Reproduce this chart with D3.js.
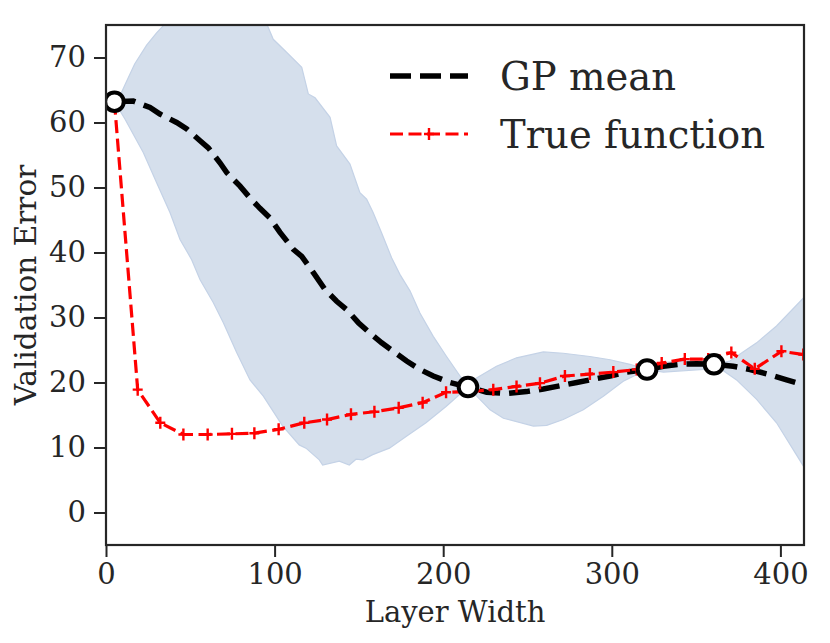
<!DOCTYPE html>
<html>
<head>
<meta charset="utf-8">
<script src="https://cdn.jsdelivr.net/npm/d3@7"></script>
<style>
  body { margin: 0; background: #fff; }
  text { font-family: "DejaVu Serif", serif; fill: #262626; }
</style>
</head>
<body>
<div id="chart"></div>
<script>
// GP posterior mean
const meanX = [5, 16.2, 26.1, 32, 41.9, 47.9, 55.8, 60.7, 67.6, 71.6, 79.5, 85.4, 91.3, 97.3, 103.2, 111.1, 116.1, 123, 129.9, 136.8, 142.8, 149.7, 156.6, 163.5, 170.4, 178.3, 186.2, 194.1, 204, 214.7, 225.8, 237.7, 249.5, 259.4, 269.3, 279.2, 289, 299, 308.8, 320.9, 330.6, 340.5, 350.4, 360.6, 372, 382, 393.8, 403.7, 414];
const meanY = [63.2, 63.3, 62.3, 61.3, 60.0, 59.0, 57.2, 56.1, 53.8, 52.3, 50.2, 48.4, 46.8, 45.3, 43.1, 40.5, 39.4, 36.9, 34.3, 32.5, 31.2, 29.2, 27.6, 26.1, 24.8, 23.3, 22.0, 21.0, 20.0, 19.3, 18.5, 18.3, 18.6, 19.0, 19.5, 20.0, 20.5, 21.0, 21.6, 22.0, 22.5, 22.8, 22.9, 22.8, 22.5, 22.0, 21.2, 20.4, 19.6];

// confidence band edges
const upperX = [5, 8.3, 11.4, 17, 24.1, 30, 34, 40, 50, 70, 88, 95.3, 99.2, 107.1, 116.1, 120, 124, 132.9, 136.8, 144.7, 150.6, 154.6, 158.5, 163.5, 169.4, 174.4, 180.3, 186.2, 194.1, 202, 210, 214.7, 219.8, 231.6, 243.5, 259.4, 271.2, 287, 299, 310.8, 320.9, 330.6, 354.3, 360.6, 370, 385.9, 397.7, 414];
const upperY = [63.2, 64.1, 65.9, 69.0, 71.9, 73.8, 74.9, 77, 82, 85, 79, 75.2, 72.8, 70.8, 68.5, 64.4, 63.8, 60.8, 56.4, 53.6, 49.2, 48.2, 46.1, 43.0, 39.2, 36.6, 34.1, 30.7, 27.1, 24.0, 21.0, 19.3, 20.7, 22.5, 23.8, 24.7, 24.5, 24.0, 23.5, 22.8, 22.0, 23.1, 23.4, 22.8, 23.3, 26.1, 28.7, 33.1];
const lowerX = [5, 11.3, 22.1, 30.1, 38, 43.9, 50.8, 55.8, 63.6, 69.6, 77.5, 85.4, 93.3, 104.8, 114.6, 118.6, 126.5, 128.5, 138.4, 144.3, 148.3, 152.3, 158.2, 168.1, 178, 189.8, 201.7, 214.7, 227.8, 235.7, 253.5, 261.4, 271.2, 283.1, 295, 306.8, 320.9, 330.6, 354.3, 360.6, 374, 385.9, 397.7, 414];
const lowerY = [63.2, 60.5, 55.4, 50.7, 46.1, 42.0, 38.9, 35.8, 32.3, 29.2, 24.6, 20.4, 17.9, 13.3, 10.4, 9.9, 8.1, 7.3, 7.9, 7.3, 8.2, 8.1, 8.9, 9.9, 11.7, 13.8, 16.3, 19.3, 15.8, 14.5, 13.3, 13.4, 14.3, 15.8, 17.9, 20.2, 22.0, 21.6, 22.0, 22.8, 20.4, 17.4, 13.8, 7.0];

// true function samples
const trueX = [5, 18.8, 32.2, 45.9, 60.3, 74.7, 88, 102.4, 117.6, 131.1, 145.3, 159.2, 173.6, 187.8, 201.7, 215.5, 229.7, 243.5, 257.4, 272.2, 287, 300.9, 314.8, 329.6, 343.3, 357.2, 370.9, 384.8, 400.6, 413.6];
const trueY = [63.2, 18.9, 13.8, 12.0, 12.0, 12.1, 12.2, 12.8, 13.8, 14.3, 15.1, 15.5, 16.1, 16.9, 18.5, 18.6, 18.9, 19.4, 19.9, 21.0, 21.3, 21.6, 22.0, 23.0, 23.6, 23.6, 24.6, 22.1, 24.8, 24.3];

// observed evaluations
const obsX = [5, 214.7, 320.9, 360.6];
const obsY = [63.2, 19.3, 22.0, 22.8];

const xTicks = [0, 100, 200, 300, 400];
const yTicks = [0, 10, 20, 30, 40, 50, 60, 70];
const legendLabels = ["GP mean", "True function"];

const width = 830, height = 643;
const margin = {top: 25, right: 26, bottom: 98, left: 106};

const svg = d3.select("#chart").append("svg")
  .attr("width", width)
  .attr("height", height);

const x = d3.scaleLinear().domain([0, 414]).range([margin.left, width - margin.right]);
const y = d3.scaleLinear().domain([-5, 75]).range([height - margin.bottom, margin.top]);

svg.append("clipPath").attr("id", "plot-clip")
  .append("rect")
  .attr("x", x.range()[0]).attr("y", y.range()[1])
  .attr("width", x.range()[1] - x.range()[0])
  .attr("height", y.range()[0] - y.range()[1]);

const plot = svg.append("g").attr("clip-path", "url(#plot-clip)");

// band polygon: upper edge forward, lower edge back
const bandPts = upperX.map((d, i) => [x(d), y(upperY[i])])
  .concat(lowerX.map((d, i) => [x(d), y(lowerY[i])]).reverse());

plot.append("path")
  .attr("d", d3.line()(bandPts) + "Z")
  .attr("fill", "#d5dfec")
  .attr("stroke", "#c4d2e6")
  .attr("stroke-width", 1.2);

const line = d3.line().x(d => x(d[0])).y(d => y(d[1]));

plot.append("path")
  .attr("d", line(meanX.map((d, i) => [d, meanY[i]])))
  .attr("fill", "none")
  .attr("stroke", "#000")
  .attr("stroke-width", 5.5)
  .attr("stroke-dasharray", "21,9");

const truePts = trueX.map((d, i) => [d, trueY[i]]);
plot.append("path")
  .attr("d", line(truePts))
  .attr("fill", "none")
  .attr("stroke", "#ff0000")
  .attr("stroke-width", 3.2)
  .attr("stroke-dasharray", "13,5.5");

const plus = (g, cx, cy) => {
  g.append("path")
    .attr("d", `M${cx},${cy - 6}V${cy + 6}M${cx - 5},${cy}H${cx + 5}`)
    .attr("stroke", "#ff0000")
    .attr("stroke-width", 2.4)
    .attr("fill", "none");
};
truePts.slice(1).forEach(d => plus(plot, x(d[0]), y(d[1])));

plot.selectAll("circle.obs")
  .data(obsX.map((d, i) => [d, obsY[i]]))
  .join("circle")
  .attr("class", "obs")
  .attr("cx", d => x(d[0]))
  .attr("cy", d => y(d[1]))
  .attr("r", 9.3)
  .attr("fill", "#fff")
  .attr("stroke", "#000")
  .attr("stroke-width", 4);

// axes
const xAxis = svg.append("g")
  .attr("transform", `translate(0,${y.range()[0]})`)
  .call(d3.axisBottom(x).tickValues(xTicks).tickSize(12).tickPadding(6).tickFormat(d3.format("d")));
const yAxis = svg.append("g")
  .attr("transform", `translate(${x.range()[0]},0)`)
  .call(d3.axisLeft(y).tickValues(yTicks).tickSize(12).tickPadding(8).tickFormat(d3.format("d")));

[xAxis, yAxis].forEach(a => {
  a.select(".domain").remove();
  a.selectAll(".tick line").attr("stroke", "#262626").attr("stroke-width", 2);
  a.selectAll(".tick text").style("font-size", "29px").attr("fill", "#262626");
});

svg.append("rect")
  .attr("x", x.range()[0]).attr("y", y.range()[1])
  .attr("width", x.range()[1] - x.range()[0])
  .attr("height", y.range()[0] - y.range()[1])
  .attr("fill", "none")
  .attr("stroke", "#262626")
  .attr("stroke-width", 2.2);

svg.append("text")
  .attr("x", 455)
  .attr("y", 622)
  .attr("text-anchor", "middle")
  .style("font-size", "29px")
  .text("Layer Width");

svg.append("text")
  .attr("transform", `translate(36,285) rotate(-90)`)
  .attr("text-anchor", "middle")
  .style("font-size", "29.5px")
  .text("Validation Error");

// legend
const legend = svg.append("g");
const legendY = [76, 134];
legend.append("line")
  .attr("x1", 390).attr("x2", 468).attr("y1", legendY[0]).attr("y2", legendY[0])
  .attr("stroke", "#000").attr("stroke-width", 5.5).attr("stroke-dasharray", "21,9");
legend.append("line")
  .attr("x1", 390).attr("x2", 468).attr("y1", legendY[1]).attr("y2", legendY[1])
  .attr("stroke", "#ff0000").attr("stroke-width", 3.2).attr("stroke-dasharray", "13,5.5");
plus(legend, 429, legendY[1]);
legend.selectAll("text.lab")
  .data(legendLabels)
  .join("text")
  .attr("class", "lab")
  .attr("x", 500)
  .attr("y", (d, i) => legendY[i] + 14)
  .style("font-size", "38.5px")
  .text(d => d);
</script>
</body>
</html>
